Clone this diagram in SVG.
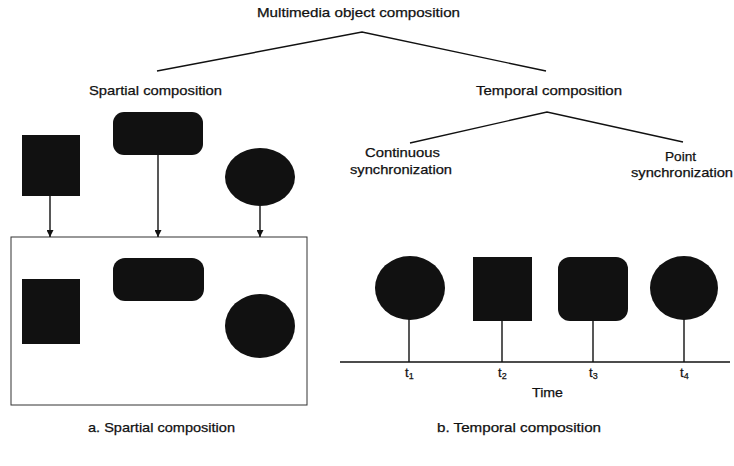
<svg xmlns="http://www.w3.org/2000/svg" width="734" height="466" viewBox="0 0 734 466">
<style>
text{font-family:"Liberation Sans",Arial,sans-serif;font-size:13px;fill:#111;stroke:#111;stroke-width:0.25}
.ln{stroke:#111;stroke-width:1.4;fill:none}
.shape{fill:#111}
.stem{stroke:#111;stroke-width:1.4}
</style>
<defs>
<marker id="ah" viewBox="0 0 10 10" refX="10" refY="5" markerWidth="7" markerHeight="7" markerUnits="userSpaceOnUse" orient="auto">
<path d="M0,0 L10,5 L0,10 Z" fill="#111"/>
</marker>
</defs>
<rect width="734" height="466" fill="#fff"/>

<g id="title"><text x="257" y="17" textLength="203" lengthAdjust="spacingAndGlyphs">Multimedia object composition</text></g>
<g id="spatial-label"><text x="89" y="95" textLength="133" lengthAdjust="spacingAndGlyphs">Spartial composition</text></g>
<g id="temporal-label"><text x="476" y="95" textLength="146" lengthAdjust="spacingAndGlyphs">Temporal composition</text></g>
<g id="continuous-label">
<text x="365" y="157" textLength="75" lengthAdjust="spacingAndGlyphs">Continuous</text>
<text x="350" y="174" textLength="102" lengthAdjust="spacingAndGlyphs">synchronization</text>
</g>
<g id="point-label">
<text x="665" y="161" textLength="31" lengthAdjust="spacingAndGlyphs">Point</text>
<text x="631" y="177" textLength="102" lengthAdjust="spacingAndGlyphs">synchronization</text>
</g>

<g id="src-square"><rect class="shape" x="22" y="135" width="58" height="61"/></g>
<g id="src-rounded"><rect class="shape" x="113" y="112" width="90" height="43" rx="11"/></g>
<g id="src-circle"><ellipse class="shape" cx="260" cy="177" rx="35" ry="29"/></g>

<g id="spatial-box">
<rect x="11" y="237" width="296" height="168" fill="none" stroke="#333" stroke-width="1"/>
<rect class="shape" x="22" y="279" width="58" height="65"/>
<rect class="shape" x="113" y="258" width="91" height="43" rx="12"/>
<ellipse class="shape" cx="260" cy="326" rx="35" ry="32"/>
</g>

<g id="timeline-objects">
<ellipse class="shape" cx="410" cy="288" rx="35" ry="32"/>
<rect class="shape" x="473" y="257" width="59" height="64"/>
<rect class="shape" x="558" y="257" width="70" height="64" rx="12"/>
<ellipse class="shape" cx="684" cy="288" rx="34" ry="32"/>
</g>

<g id="connectors">
<polyline class="ln" points="157,71 362,32 546,71"/>
<polyline class="ln" points="410,143 547,112 683,142"/>
<line class="stem" x1="50" y1="196" x2="50" y2="237" marker-end="url(#ah)"/>
<line class="stem" x1="158" y1="155" x2="158" y2="237" marker-end="url(#ah)"/>
<line class="stem" x1="260" y1="206" x2="260" y2="237" marker-end="url(#ah)"/>
<line class="stem" x1="340" y1="362" x2="730" y2="362"/>
<line class="stem" x1="409" y1="318" x2="409" y2="362"/>
<line class="stem" x1="502" y1="321" x2="502" y2="362"/>
<line class="stem" x1="593" y1="321" x2="593" y2="362"/>
<line class="stem" x1="684" y1="318" x2="684" y2="362"/>
</g>

<g id="time-labels">
<text x="405" y="377">t<tspan font-size="9" dy="2">1</tspan></text>
<text x="498" y="377">t<tspan font-size="9" dy="2">2</tspan></text>
<text x="589" y="377">t<tspan font-size="9" dy="2">3</tspan></text>
<text x="680" y="377">t<tspan font-size="9" dy="2">4</tspan></text>
<text x="532" y="397" textLength="31" lengthAdjust="spacingAndGlyphs">Time</text>
</g>

<g id="captions">
<text x="88" y="432" textLength="147" lengthAdjust="spacingAndGlyphs">a. Spartial composition</text>
<text x="437" y="432" textLength="164" lengthAdjust="spacingAndGlyphs">b. Temporal composition</text>
</g>
</svg>
